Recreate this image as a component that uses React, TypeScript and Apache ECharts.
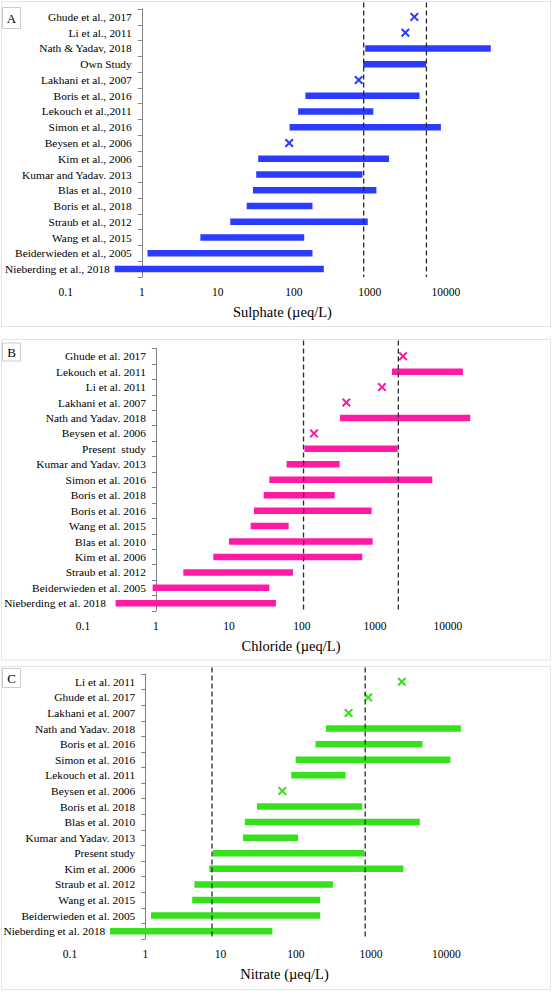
import React, { useEffect, useRef } from "react";
import * as echarts from "echarts";

// ---------- DATA ----------
const sulphateStudies = [
  "Ghude et al., 2017", "Li et al., 2011", "Nath & Yadav, 2018", "Own Study",
  "Lakhani et al., 2007", "Boris et al., 2016", "Lekouch et al.,2011", "Simon et al., 2016",
  "Beysen et al., 2006", "Kim et al., 2006", "Kumar and Yadav. 2013", "Blas et al., 2010",
  "Boris et al., 2018", "Straub et al., 2012", "Wang et al., 2015",
  "Beiderwieden et al., 2005", "Nieberding et al., 2018",
];
const sulphateMin = [null, null, 870, 815, null, 142, 114, 88, null, 34, 32, 29, 24, 14.6, 5.9, 1.19, 0.44];
const sulphateMax = [null, null, 39000, 5500, null, 4500, 1110, 8600, null, 1790, 800, 1220, 176, 940, 137, 176, 248];
const sulphatePoint = [3850, 2930, null, null, 713, null, null, null, 87, null, null, null, null, null, null, null, null];
const sulphateRefs = [830, 5550];

const chlorideStudies = [
  "Ghude et al. 2017", "Lekouch et al. 2011", "Li et al. 2011", "Lakhani et al. 2007",
  "Nath and Yadav. 2018", "Beysen et al. 2006", "Present  study", "Kumar and Yadav. 2013",
  "Simon et al. 2016", "Boris et al. 2018", "Boris et al. 2016", "Wang et al. 2015",
  "Blas et al. 2010", "Kim et al. 2006", "Straub et al. 2012",
  "Beiderwieden et al. 2005", "Nieberding et al. 2018",
];
const chlorideMin = [null, 1710, null, null, 332, null, 108, 61.6, 35.7, 29.9, 22, 19.8, 10, 6.1, 2.37, 0.9, 0.28];
const chlorideMax = [null, 16000, null, null, 20200, null, 2045, 328, 6100, 280, 900, 65.7, 929, 670, 75.3, 35.7, 44];
const chloridePoint = [2420, null, 1247, 405, null, 146, null, null, null, null, null, null, null, null, null, null, null];
const chlorideRefs = [105, 2090];

const nitrateStudies = [
  "Li et al. 2011", "Ghude et al. 2017", "Lakhani et al. 2007", "Nath and Yadav. 2018",
  "Boris et al. 2016", "Simon et al. 2016", "Lekouch et al. 2011", "Beysen et al. 2006",
  "Boris et al. 2018", "Blas et al. 2010", "Kumar and Yadav. 2013", "Present study",
  "Kim et al. 2006", "Straub et al. 2012", "Wang et al. 2015",
  "Beiderwieden et al. 2005", "Nieberding et al. 2018",
];
const nitrateMin = [null, null, null, 251, 183, 99.5, 87, null, 30.5, 21, 19.9, 7.9, 7.1, 4.5, 4.2, 1.19, 0.34];
const nitrateMax = [null, null, null, 15600, 4810, 11300, 458, null, 762, 4430, 107, 809, 2690, 311, 211, 211, 48.8];
const nitratePoint = [2560, 915, 502, null, null, null, null, 66.2, null, null, null, null, null, null, null, null, null];
const nitrateRefs = [7.7, 835];

const axisNames = ["Sulphate (µeq/L)", "Chloride (µeq/L)", "Nitrate (µeq/L)"];
const panelLetters = ["A", "B", "C"];
const X_MIN = 0.1;
const X_MAX = 50000;

// ---------- LAYOUT / STYLE ----------
const FONT = "Liberation Serif";
const LABEL_SIZE = 11.4;
const CROSS = "path://M0,1.6L1.6,0L5,3.4L8.4,0L10,1.6L6.6,5L10,8.4L8.4,10L5,6.6L1.6,10L0,8.4L3.4,5Z";

const panels = [
  {
    cats: sulphateStudies, mins: sulphateMin, maxs: sulphateMax, pts: sulphatePoint, refs: sulphateRefs,
    color: "#2b3cff", left: 65.75, width: 433.25, top: 9, height: 268, lastShift: 22,
    frameTop: 1.5, frameH: 325, letterTop: 7.5, letterH: 21,
  },
  {
    cats: chlorideStudies, mins: chlorideMin, maxs: chlorideMax, pts: chloridePoint, refs: chlorideRefs,
    color: "#ff1aa6", left: 83, width: 416, top: 348.5, height: 262.5, lastShift: 40,
    frameTop: 339.5, frameH: 320.5, letterTop: 343, letterH: 18,
  },
  {
    cats: nitrateStudies, mins: nitrateMin, maxs: nitrateMax, pts: nitratePoint, refs: nitrateRefs,
    color: "#37e01c", left: 70, width: 429, top: 674, height: 265, lastShift: 30,
    frameTop: 666.5, frameH: 323, letterTop: 668.5, letterH: 19,
  },
];

const decades = Math.log10(X_MAX) - Math.log10(X_MIN);

function tickFormatter(v: number) {
  const l = Math.log10(v);
  const r = Math.round(l);
  if (Math.abs(l - r) > 1e-6) return "";
  return r < 0 ? "0.1" : String(Math.pow(10, r));
}

function buildOption() {
  const grid = panels.map((p) => ({ left: p.left, top: p.top, width: p.width, height: p.height }));
  const xAxis = panels.map((p, i) => ({
    type: "log",
    logBase: 10,
    gridIndex: i,
    min: X_MIN,
    max: X_MAX,
    name: axisNames[i],
    nameLocation: "middle",
    nameGap: 27,
    nameTextStyle: { fontFamily: FONT, fontSize: 14.5, color: "#000" },
    axisLine: { lineStyle: { color: "#7d8190", width: 1 } },
    axisTick: { inside: true, length: 4, lineStyle: { color: "#7d8190" } },
    minorTick: { show: false },
    splitLine: { show: false },
    axisLabel: { formatter: tickFormatter, fontFamily: FONT, fontSize: 11.5, color: "#000", margin: 9 },
  }));
  const yAxis = panels.map((p, i) => {
    const last = p.cats[p.cats.length - 1];
    return {
      type: "category",
      gridIndex: i,
      data: p.cats,
      inverse: true,
      offset: -p.width / decades,
      axisLine: { lineStyle: { color: "#808080", width: 1 } },
      axisTick: { show: true, length: 4, lineStyle: { color: "#808080", width: 1 } },
      axisLabel: {
        fontFamily: FONT,
        fontSize: LABEL_SIZE,
        color: "#000",
        margin: 10,
        interval: 0,
        formatter: (v: string) => (v === last ? `{s|${v}}` : v),
        rich: {
          s: { fontFamily: FONT, fontSize: LABEL_SIZE, color: "#000", padding: [0, p.lastShift, 0, 0] },
        },
      },
      splitLine: { show: false },
    };
  });
  const series: any[] = [];
  panels.forEach((p, i) => {
    const bars = p.cats
      .map((c, k) => (p.mins[k] != null ? [c, p.mins[k], p.maxs[k]] : null))
      .filter(Boolean);
    const pts = p.cats
      .map((c, k) => (p.pts[k] != null ? [p.pts[k], c] : null))
      .filter(Boolean);
    const color = p.color;
    const extendUp = p.top - p.frameTop - 1;
    series.push({
      type: "custom",
      xAxisIndex: i,
      yAxisIndex: i,
      encode: { x: [1, 2], y: 0 },
      data: bars,
      renderItem: (params: any, api: any) => {
        const y = api.value(0);
        const a = api.coord([api.value(1), y]);
        const b = api.coord([api.value(2), y]);
        const h = 6.5;
        return {
          type: "rect",
          shape: { x: a[0], y: a[1] - h / 2, width: b[0] - a[0], height: h },
          style: { fill: color },
        };
      },
    });
    series.push({
      type: "scatter",
      xAxisIndex: i,
      yAxisIndex: i,
      data: pts,
      symbol: CROSS,
      symbolSize: 9,
      itemStyle: { color, opacity: 1 },
    });
    // dashed reference lines (guideline values)
    series.push({
      type: "custom",
      xAxisIndex: i,
      yAxisIndex: i,
      encode: { x: 0 },
      data: p.refs.map((v) => [v]),
      z: 5,
      renderItem: (params: any, api: any) => {
        const x = api.coord([api.value(0), 0])[0];
        const cs = params.coordSys;
        return {
          type: "line",
          shape: { x1: x, y1: cs.y - extendUp, x2: x, y2: cs.y + cs.height },
          style: { stroke: "#2a2a2a", lineWidth: 1.3, lineDash: [5, 3] },
        };
      },
    });
  });

  const graphic: any[] = [];
  panels.forEach((p, i) => {
    graphic.push({
      type: "rect",
      shape: { x: 1.5, y: p.frameTop, width: 549, height: p.frameH },
      style: { fill: "none", stroke: "#dfe5ea", lineWidth: 1 },
      silent: true,
      z: -1,
    });
    graphic.push({
      type: "rect",
      shape: { x: 2.5, y: p.letterTop, width: 18, height: p.letterH },
      style: { fill: "#fff", stroke: "#c8cdd2", lineWidth: 1 },
      silent: true,
    });
    graphic.push({
      type: "text",
      x: 11.5,
      y: p.letterTop + p.letterH / 2,
      style: {
        text: panelLetters[i],
        fontFamily: FONT,
        fontSize: 13,
        fill: "#000",
        align: "center",
        verticalAlign: "middle",
      },
      silent: true,
    });
  });

  return {
    animation: false,
    backgroundColor: "#ffffff",
    grid,
    xAxis,
    yAxis,
    series,
    graphic,
  };
}

export default function App() {
  const ref = useRef<HTMLDivElement>(null);
  useEffect(() => {
    if (!ref.current) return;
    const chart = echarts.init(ref.current, undefined, { renderer: "svg" });
    chart.setOption(buildOption() as any);
    return () => chart.dispose();
  }, []);
  return (
    <div
      ref={ref}
      style={{ position: "fixed", left: 0, top: 0, width: 553, height: 992, background: "#fff" }}
    />
  );
}
